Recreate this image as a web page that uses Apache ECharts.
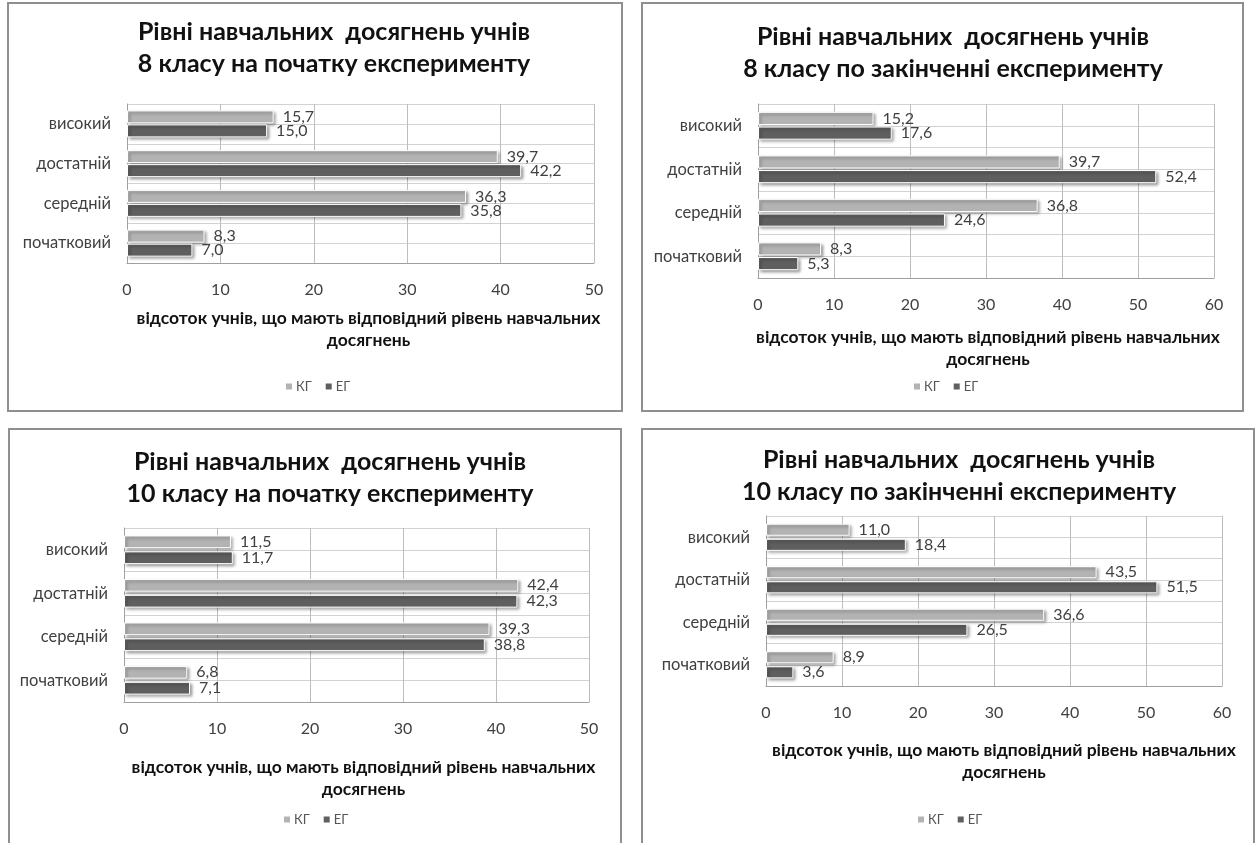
<!DOCTYPE html>
<html>
<head>
<meta charset="utf-8">
<script src="https://cdn.jsdelivr.net/npm/echarts@6/dist/echarts.min.js"></script>
<style>
html,body{margin:0;padding:0;background:#fff;}
#c{width:1258px;height:843px;}
</style>
</head>
<body>
<div id="c"></div>
<script>
// ---- data ----
const categories = ['високий', 'достатній', 'середній', 'початковий'];
const seriesNames = ['КГ', 'ЕГ'];

const titles = [
  'Рівні навчальних  досягнень учнів\n8 класу на початку експерименту',
  'Рівні навчальних  досягнень учнів\n8 класу по закінченні експерименту',
  'Рівні навчальних  досягнень учнів\n10 класу на початку експерименту',
  'Рівні навчальних  досягнень учнів\n10 класу по закінченні експерименту'
];
const axisTitle = 'відсоток учнів, що мають відповідний рівень навчальних\nдосягнень';

const kg8Start = [15.7, 39.7, 36.3, 8.3];
const eg8Start = [15.0, 42.2, 35.8, 7.0];
const kg8End = [15.2, 39.7, 36.8, 8.3];
const eg8End = [17.6, 52.4, 24.6, 5.3];
const kg10Start = [11.5, 42.4, 39.3, 6.8];
const eg10Start = [11.7, 42.3, 38.8, 7.1];
const kg10End = [11.0, 43.5, 36.6, 8.9];
const eg10End = [18.4, 51.5, 26.5, 3.6];

const ticks50 = [0, 10, 20, 30, 40, 50];
const ticks60 = [0, 10, 20, 30, 40, 50, 60];

// ---- layout (positions & styles) ----
const FONT = "Lato, 'Noto Sans', sans-serif";
const LIGHT = '#b3b3b3';
const DARK = '#5f5f5f';

const panels = [
  { kg: kg8Start, eg: eg8Start, ticks: ticks50, title: titles[0],
    box: [8, 3, 614, 408], grid: [127, 104, 467, 159],
    titleX: 334, titleY: 16, nameGap: 44, nameShift: 16, legendX: 284, legendY: 380,
    catGap: '32%', barGap: '8%' },
  { kg: kg8End, eg: eg8End, ticks: ticks60, title: titles[1],
    box: [642, 3, 601, 408], grid: [758, 104, 456, 174],
    titleX: 953, titleY: 21, nameGap: 48, nameShift: 4, legendX: 912, legendY: 380,
    catGap: '36%', barGap: '12%' },
  { kg: kg10Start, eg: eg10Start, ticks: ticks50, title: titles[2],
    box: [9, 429, 612, 440], grid: [124, 528, 465, 174],
    titleX: 330, titleY: 446, nameGap: 54, nameShift: 14, legendX: 282, legendY: 813,
    catGap: '34%', barGap: '25%' },
  { kg: kg10End, eg: eg10End, ticks: ticks60, title: titles[3],
    box: [642, 429, 612, 440], grid: [766, 516, 456, 170],
    titleX: 959, titleY: 444, nameGap: 53, nameShift: 20, legendX: 916, legendY: 813,
    catGap: '36%', barGap: '25%' }
];

const fmt = p => p.value.toFixed(1).replace('.', ',');

const option = {
  animation: false,
  backgroundColor: '#fff',
  textStyle: { fontFamily: FONT },
  title: [], legend: [], grid: [], xAxis: [], yAxis: [], series: [],
  graphic: []
};

panels.forEach((p, i) => {
  option.graphic.push({
    type: 'rect', silent: true, z: -10,
    shape: { x: p.box[0], y: p.box[1], width: p.box[2], height: p.box[3] },
    style: { fill: '#fff', stroke: '#8f8f8f', lineWidth: 2 }
  });
  option.title.push({
    text: p.title, left: p.titleX, top: p.titleY, textAlign: 'center', padding: 0,
    textStyle: { fontFamily: FONT, fontSize: 25, fontWeight: 'bold', color: '#111', lineHeight: 32 }
  });
  option.legend.push({
    data: seriesNames, left: p.legendX, top: p.legendY, padding: 0,
    icon: 'rect', itemWidth: 8, itemHeight: 8, itemGap: 12,
    textStyle: { fontFamily: FONT, fontSize: 13, color: '#555', padding: [0, 0, 0, -2] },
    selectedMode: false
  });
  option.grid.push({ left: p.grid[0], top: p.grid[1], width: p.grid[2], height: p.grid[3] });
  const tk = p.ticks;
  option.xAxis.push({
    type: 'value', gridIndex: i, min: tk[0], max: tk[tk.length - 1], interval: tk[1] - tk[0],
    axisLine: { show: true, lineStyle: { color: '#a0a0a0', width: 1 } },
    axisTick: { show: false },
    splitLine: { show: true, lineStyle: { color: '#bdbdbd', width: 1 } },
    axisLabel: { margin: 19, fontFamily: FONT, fontSize: 16, color: '#404040' },
    name: axisTitle, nameLocation: 'middle', nameGap: p.nameGap,
    nameTextStyle: { fontFamily: FONT, fontSize: 17.5, fontWeight: 'bold', color: '#111',
      lineHeight: 22, padding: [0, 0, 0, p.nameShift] }
  });
  option.yAxis.push({
    type: 'category', gridIndex: i, data: categories, inverse: true,
    axisLine: { show: true, lineStyle: { color: '#a0a0a0', width: 1 } },
    axisTick: { show: false },
    splitLine: { show: false },
    axisLabel: { margin: 16, fontFamily: FONT, fontSize: 16.5, color: '#404040' }
  });
  // helper axis: horizontal grid lines at every half category
  option.yAxis.push({
    type: 'value', gridIndex: i, min: 0, max: 8, interval: 1,
    axisLine: { show: false }, axisTick: { show: false }, axisLabel: { show: false },
    splitLine: { show: true, lineStyle: { color: '#d2d2d2', width: 1 } }
  });
  const catAxis = i * 2;
  [[p.kg, LIGHT, seriesNames[0]], [p.eg, DARK, seriesNames[1]]].forEach(([vals, col, nm]) => {
    option.series.push({
      type: 'bar', name: nm, xAxisIndex: i, yAxisIndex: catAxis, data: vals,
      barCategoryGap: p.catGap, barGap: p.barGap,
      itemStyle: { color: col, borderColor: '#ffffff', borderWidth: 1,
        shadowColor: 'rgba(0,0,0,0.4)', shadowBlur: 3, shadowOffsetX: 2, shadowOffsetY: 2 },
      label: { show: true, position: 'right', distance: 9, formatter: fmt,
        fontFamily: FONT, fontSize: 16, color: '#404040' }
    });
  });
});

const chart = echarts.init(document.getElementById('c'), null, { renderer: 'canvas' });
chart.setOption(option);
</script>
</body>
</html>
